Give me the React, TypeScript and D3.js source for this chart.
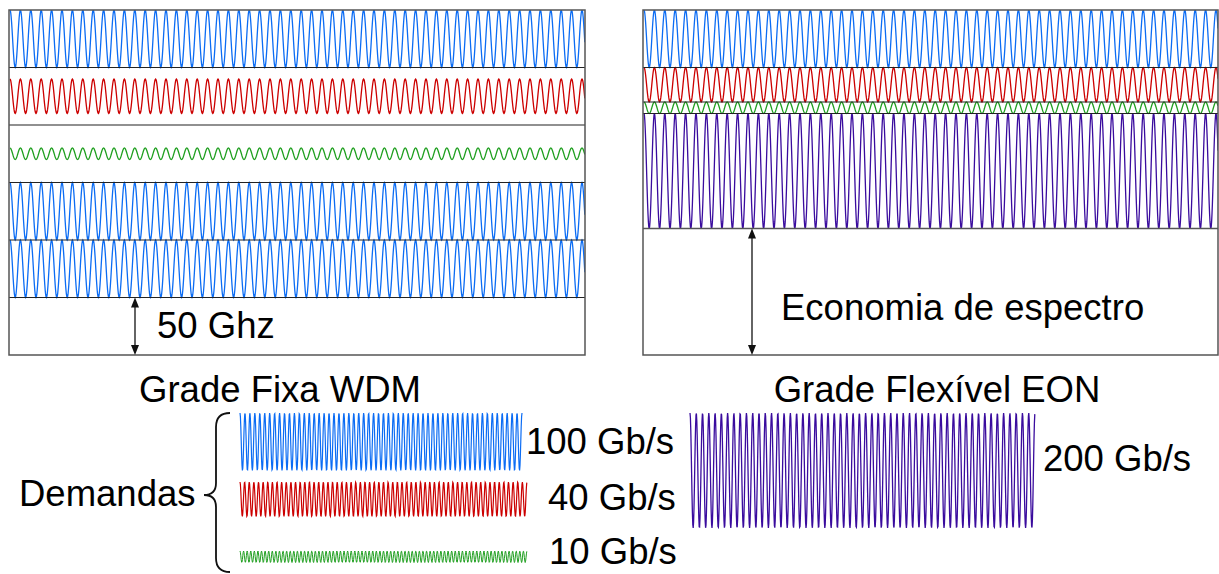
import * as d3 from "d3";

const W = 1219;
const H = 574;

// demandas: rótulo, largura ocupada no espectro (GHz), cor
const demandLabels = ["100 Gb/s", "40 Gb/s", "10 Gb/s", "200 Gb/s"];
const demandGhz = [50, 30, 10, 100];
const demandColors = ["#0b6cf4", "#cc0000", "#1f9f1f", "#3a0c9e"];

// grade fixa: demanda em cada slot de 50 GHz (-1 = slot livre)
const fixedSlots = [0, 1, 2, 0, 0, -1];
const fixedSlotGhz = 50;
// grade flexível: demandas empilhadas sem folga
const flexStack = [0, 1, 2, 3];
const spectrumGhz = 300;

// ciclos desenhados em cada amostra da legenda
const legendCycles = [57, 62, 80, 55];
const panelPeriod = 10.4;

const FONT = "'Liberation Sans', Arial, sans-serif";
const FS = 36.5;

const y = d3.scaleLinear().domain([0, spectrumGhz]).range([10, 355]);
const ghzPx = (g: number) => y(g) - y(0);

const line = d3.line<[number, number]>();

function wave(x0: number, x1: number, top: number, h: number, period: number) {
  const mid = top + h / 2;
  const amp = h / 2;
  const pts: [number, number][] = d3
    .range(x0, x1 + 0.01, 0.4)
    .map((x) => [x, mid - amp * Math.cos(((x - x0) / period) * 2 * Math.PI)]);
  return line(pts) || "";
}

function Arrow({ x, y0, y1 }: { x: number; y0: number; y1: number }) {
  return (
    <g>
      <line x1={x} x2={x} y1={y0 + 6} y2={y1 - 6} stroke="#111" strokeWidth={1.3} />
      <path d={`M${x},${y0} L${x - 4},${y0 + 10} L${x + 4},${y0 + 10} Z`} fill="#111" />
      <path d={`M${x},${y1} L${x - 4},${y1 - 10} L${x + 4},${y1 - 10} Z`} fill="#111" />
    </g>
  );
}

export default function App() {
  const L = { x0: 9, x1: 585 };
  const R = { x0: 643, x1: 1218 };

  // grade fixa
  const fixedRows = fixedSlots.map((d, i) => ({
    d,
    top: y(i * fixedSlotGhz),
    h: ghzPx(fixedSlotGhz),
  }));

  // grade flexível
  let acc = 0;
  const flexRows = flexStack.map((d) => {
    const r = { d, top: y(acc), h: ghzPx(demandGhz[d]) };
    acc += demandGhz[d];
    return r;
  });
  const freeTop = y(acc);

  const legendItems = [
    { d: 0, x0: 240, x1: 522, top: 413, sw: 1.2 },
    { d: 1, x0: 240, x1: 527, top: 482, sw: 1.2 },
    { d: 2, x0: 240, x1: 527, top: 551, sw: 1.0 },
    { d: 3, x0: 690, x1: 1035, top: 413, sw: 1.3 },
  ];
  const labelPos = [
    { x: 526, y: 454 },
    { x: 548, y: 510 },
    { x: 549, y: 564 },
    { x: 1043, y: 471 },
  ];

  return (
    <svg
      width={W}
      height={H}
      viewBox={`0 0 ${W} ${H}`}
      style={{ position: "absolute", left: 0, top: 0, background: "#fff" }}
      fontFamily={FONT}
    >
      <defs>
        <clipPath id="clipL">
          <rect x={L.x0} y={y(0)} width={L.x1 - L.x0} height={ghzPx(spectrumGhz)} />
        </clipPath>
        <clipPath id="clipR">
          <rect x={R.x0} y={y(0)} width={R.x1 - R.x0} height={ghzPx(spectrumGhz)} />
        </clipPath>
      </defs>

      {/* painel grade fixa */}
      <g clipPath="url(#clipL)">
        {fixedRows.map((r, i) =>
          r.d < 0 ? null : (
            <path
              key={i}
              d={wave(L.x0 + 1, L.x1, r.top + (r.h - ghzPx(demandGhz[r.d])) / 2, ghzPx(demandGhz[r.d]), panelPeriod)}
              fill="none"
              stroke={demandColors[r.d]}
              strokeWidth={1.3}
            />
          )
        )}
      </g>
      {fixedRows.slice(1).map((r, i) => (
        <line key={i} x1={L.x0} x2={L.x1} y1={r.top} y2={r.top} stroke="#222" strokeWidth={1.2} />
      ))}
      <rect x={L.x0} y={y(0)} width={L.x1 - L.x0} height={ghzPx(spectrumGhz)} fill="none" stroke="#555" strokeWidth={1.5} />
      <Arrow x={135} y0={y(250)} y1={y(300)} />
      <text x={157} y={338} fontSize={FS} fill="#000">50 Ghz</text>

      {/* painel grade flexível */}
      <g clipPath="url(#clipR)">
        {flexRows.map((r, i) => (
          <path
            key={i}
            d={wave(R.x0 + 1, R.x1, r.top, r.h, panelPeriod)}
            fill="none"
            stroke={demandColors[r.d]}
            strokeWidth={1.3}
          />
        ))}
      </g>
      {flexRows.slice(1).map((r, i) => (
        <line key={i} x1={R.x0} x2={R.x1} y1={r.top} y2={r.top} stroke="#222" strokeWidth={1.2} />
      ))}
      <line x1={R.x0} x2={R.x1} y1={freeTop} y2={freeTop} stroke="#555" strokeWidth={1.3} />
      <rect x={R.x0} y={y(0)} width={R.x1 - R.x0} height={ghzPx(spectrumGhz)} fill="none" stroke="#555" strokeWidth={1.5} />
      <Arrow x={752} y0={freeTop} y1={y(300)} />
      <text x={781} y={320} fontSize={FS} fill="#000">Economia de espectro</text>

      {/* títulos */}
      <text x={280} y={402} fontSize={FS} textAnchor="middle" fill="#000">Grade Fixa WDM</text>
      <text x={937} y={402} fontSize={FS} textAnchor="middle" fill="#000">Grade Flexível EON</text>

      {/* legenda */}
      <text x={19} y={506} fontSize={FS} fill="#000">Demandas</text>
      <path
        d="M230,413 Q216,413 216,427 L216,483 Q216,495 204,495 Q216,495 216,507 L216,558 Q216,572 230,572"
        fill="none"
        stroke="#111"
        strokeWidth={1.8}
      />
      {legendItems.map((it, i) => {
        const h = ghzPx(demandGhz[it.d]);
        return (
          <path
            key={i}
            d={wave(it.x0, it.x1, it.top, h, (it.x1 - it.x0) / legendCycles[i])}
            fill="none"
            stroke={demandColors[it.d]}
            strokeWidth={it.sw}
          />
        );
      })}
      {demandLabels.map((lab, i) => (
        <text key={i} x={labelPos[i].x} y={labelPos[i].y} fontSize={FS} fill="#000">
          {lab}
        </text>
      ))}
    </svg>
  );
}
